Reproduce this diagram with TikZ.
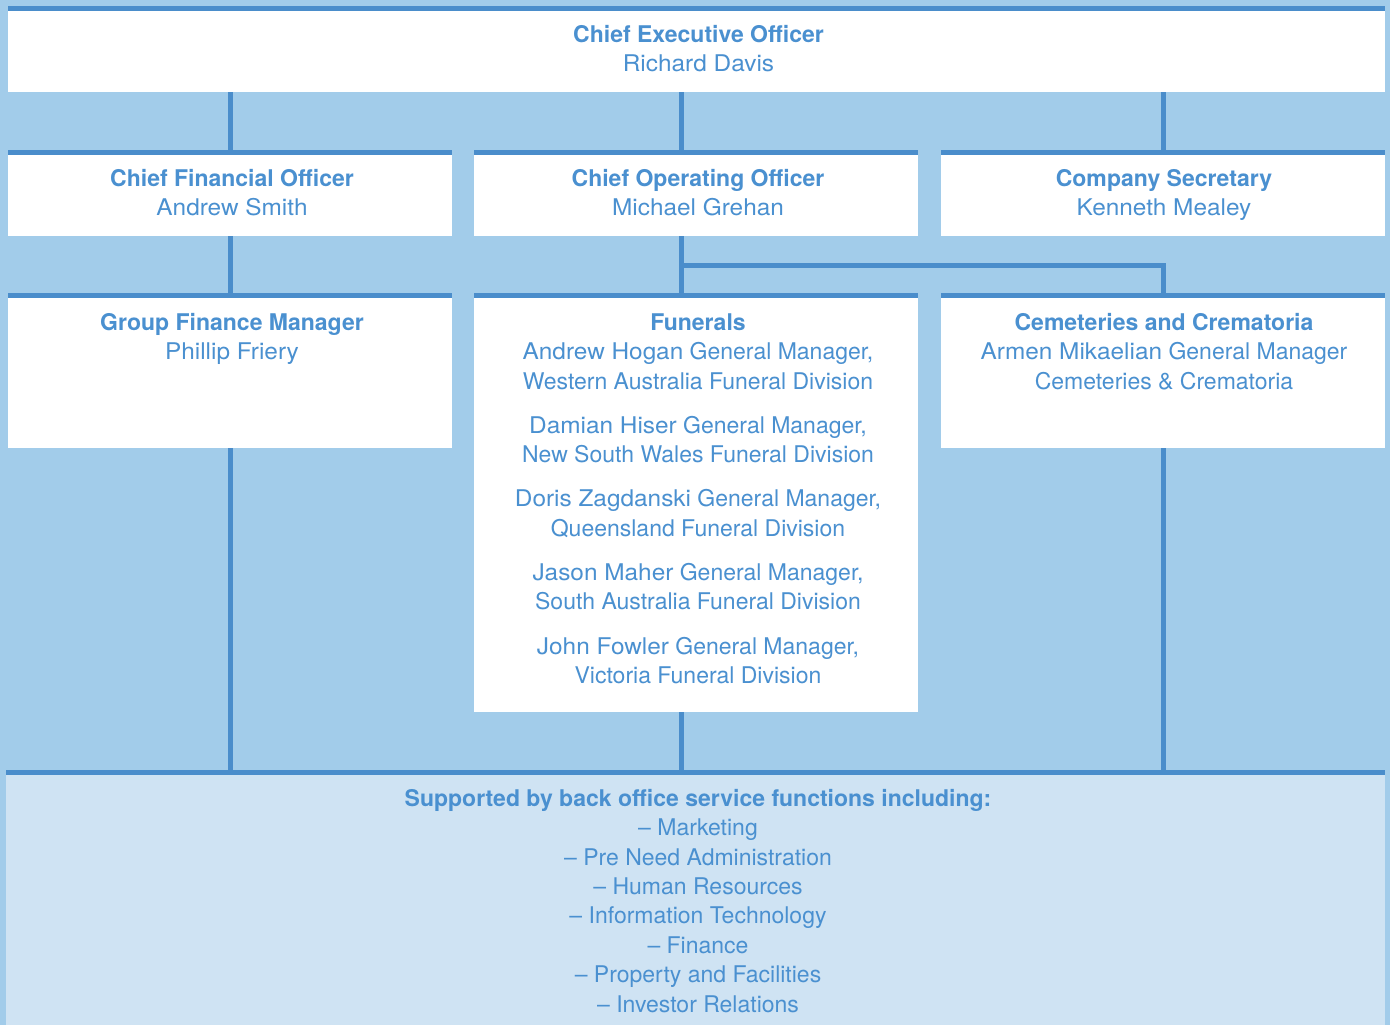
\documentclass[tikz,border=0pt]{standalone}
\usepackage{fontspec}
\setmainfont{TeX Gyre Heros}
\newfontfamily\namefont{TeX Gyre Heros}[FakeStretch=1.06]
\definecolor{bgblue}{HTML}{A2CCEA}
\definecolor{lineblue}{HTML}{4A8DCB}
\definecolor{textblue}{HTML}{4A90D0}
\definecolor{lowblue}{HTML}{CFE3F3}
\newcommand{\fl}{\rule{0pt}{17pt}}
\newcommand{\nm}[1]{{\namefont #1}}
\begin{document}
\begin{tikzpicture}[x=1pt,y=-1pt,
  box/.style={fill=white, draw=none, inner sep=0pt, outer sep=0pt, anchor=north west, minimum width=444pt},
  topline/.style={draw=lineblue, line width=5pt},
  conn/.style={draw=lineblue, line width=5pt, line join=miter},
  txt/.style={text=textblue, align=center, anchor=north, inner sep=0pt, font=\fontsize{23}{29.4}\selectfont}]
\useasboundingbox (0,0) rectangle (1390,1025);
\fill[bgblue] (0,0) rectangle (1390,1025);

% boxes
\node[box, minimum width=1377pt, minimum height=86pt] (ceo) at (8,6) {};
\node[box, minimum height=86pt] (cfo) at (8,150) {};
\node[box, minimum height=86pt] (coo) at (474,150) {};
\node[box, minimum height=86pt] (cs) at (941,150) {};
\node[box, minimum height=155pt] (gfm) at (8,293) {};
\node[box, minimum height=419pt] (fun) at (474,293) {};
\node[box, minimum height=155pt] (cc) at (941,293) {};
\node[box, fill=lowblue, minimum width=1379pt, minimum height=256pt] (bot) at (6,770) {};

\foreach \b in {ceo,cfo,coo,cs,gfm,fun,cc,bot}
  \draw[topline] ([yshift=-2.5pt]\b.north west) -- ([yshift=-2.5pt]\b.north east);

% connectors
\coordinate (coonx) at ([xshift=-15pt]coo.north);
\coordinate (coosx) at ([xshift=-15pt]coo.south);
\coordinate (funnx) at ([xshift=-15pt]fun.north);
\coordinate (funsx) at ([xshift=-15pt]fun.south);
\draw[conn] (cfo.north) -- (cfo.north |- ceo.south);
\draw[conn] (coonx) -- (coonx |- ceo.south);
\draw[conn] (cs.north) -- (cs.north |- ceo.south);
\draw[conn] (cfo.south) -- (gfm.north);
\draw[conn] (coosx) -- (funnx);
\draw[conn] (coosx) ++(0,29.5) -| (cc.north);
\draw[conn] (gfm.south) -- (gfm.south |- bot.north);
\draw[conn] (funsx) -- (funsx |- bot.north);
\draw[conn] (cc.south) -- (cc.south |- bot.north);

% texts
\node[txt] (ceot) at (698.5,24.7) {\fl\textbf{Chief Executive Officer}\\\nm{Richard Davis}};
\node[txt] (cfot) at (232,169) {\fl\textbf{Chief Financial Officer}\\\nm{Andrew Smith}};
\node[txt] (coot) at (698,169) {\fl\textbf{Chief Operating Officer}\\\nm{Michael Grehan}};
\node[txt] (cst) at (1164,169) {\fl\textbf{Company Secretary}\\\nm{Kenneth Mealey}};
\node[txt] (gfmt) at (232,313) {\fl\textbf{Group Finance Manager}\\\nm{Phillip Friery}};
\node[txt] (funt) at (698,313) {\fl\textbf{Funerals}\\
\nm{Andrew Hogan} General Manager,\\Western Australia Funeral Division\\[14.8pt]
\nm{Damian Hiser} General Manager,\\New South Wales Funeral Division\\[14.8pt]
\nm{Doris Zagdanski} General Manager,\\Queensland Funeral Division\\[14.8pt]
\nm{Jason Maher} General Manager,\\South Australia Funeral Division\\[14.8pt]
\nm{John Fowler} General Manager,\\Victoria Funeral Division};
\node[txt] (cct) at (1164,313) {\fl\textbf{Cemeteries and Crematoria}\\\nm{Armen Mikaelian} General Manager\\Cemeteries \& Crematoria};
\node[txt] (bott) at (698,789) {\fl\textbf{Supported by back office service functions including:}\\
– Marketing\\– Pre Need Administration\\– Human Resources\\– Information Technology\\– Finance\\– Property and Facilities\\– Investor Relations};
\end{tikzpicture}
\end{document}
